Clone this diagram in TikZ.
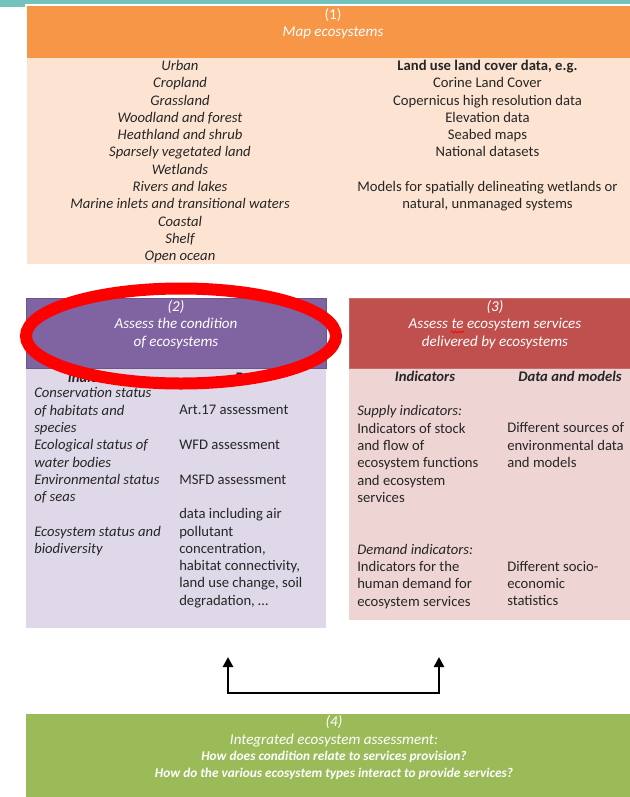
\documentclass[tikz,border=0pt]{standalone}
\usepackage{fontspec}
\setmainfont{Carlito}
\usetikzlibrary{arrows.meta,decorations.pathmorphing}

\definecolor{ecoteal}{HTML}{74C2BC}
\definecolor{ecoorange}{HTML}{F79646}
\definecolor{ecopeach}{HTML}{FDE4D2}
\definecolor{ecopurple}{HTML}{8064A2}
\definecolor{ecolavender}{HTML}{DFD8E8}
\definecolor{ecored}{HTML}{C0504D}
\definecolor{ecopink}{HTML}{EED5D4}
\definecolor{ecogreen}{HTML}{9BBB59}
\definecolor{ecotext}{HTML}{262626}

\newcommand\ecobodyfont{\fontsize{11}{12.97}\selectfont}
\newcommand\ecoheadfont{\fontsize{11.3}{13.1}\selectfont\itshape}
\newcommand\ecoquestfont{\fontsize{10}{12.75}\selectfont\bfseries\itshape}
\newcommand\ecoskip{12.97pt}

\tikzset{
  ecotext/.style={anchor=base, inner sep=0pt, text=ecotext, font=\ecobodyfont},
  ecolist/.style={ecotext, align=center},
  ecocol/.style={ecotext, anchor=base west, align=left},
  ecohead/.style={anchor=base, inner sep=0pt, text=white, align=center, font=\ecoheadfont},
  ecocolhead/.style={ecotext, font=\ecobodyfont\bfseries\itshape},
  ecoloop/.style={line width=2pt, {Triangle[width=7.5pt, length=7.5pt]}-{Triangle[width=7.5pt, length=7.5pt]}},
}

\begin{document}
\begin{tikzpicture}[x=0.75pt, y=-0.75pt]
  \useasboundingbox (0,0) rectangle (630,797);
  \fill[ecoteal] (0,0) rectangle (630,4);
  \fill[ecoteal] (0,0) rectangle (25,7);

  % (1) map -- multi-line nodes sit on their last baseline
  \fill[ecoorange] (27,6) rectangle (630,58);
  \fill[ecopeach] (27,58) rectangle (630,264);
  \node[ecohead] (maphead) at (333,36.5) {\upshape(1)\\Map ecosystems};
  \node[ecolist, font=\ecobodyfont\itshape] (ecotypes) at (180,260.7)
    {Urban\\Cropland\\Grassland\\Woodland and forest\\Heathland and shrub\\
     Sparsely vegetated land\\Wetlands\\Rivers and lakes\\
     Marine inlets and transitional waters\\Coastal\\Shelf\\Open ocean};
  \node[ecolist] (mapdata) at (487.5,208.8)
    {\textbf{Land use land cover data, e.g.}\\Corine Land Cover\\
     Copernicus high resolution data\\Elevation data\\Seabed maps\\
     National datasets\\[\ecoskip]
     Models for spatially delineating wetlands or\\natural, unmanaged systems};

  % (2) condition
  \fill[ecolavender] (26,368) rectangle (326,628);
  \filldraw[fill=ecopurple, draw=ecopurple!85!black, line width=0.5pt] (26,298) rectangle (326,368);
  \node[ecohead] (condhead) at (176,346) {(2)\\Assess the condition\\of ecosystems};
  \node[ecocolhead] (condind) at (98,382) {Indicators};
  \node[ecocolhead] (conddata) at (250,382) {Data};
  \node[ecocol, font=\ecobodyfont\itshape] (condlist) at (34,553.6)
    {Conservation status\\of habitats and\\species\\Ecological status of\\
     water bodies\\Environmental status\\of seas\\[\ecoskip]
     Ecosystem status and\\biodiversity};
  \node[ecocol] (condsrc) at (179,605.2)
    {Art.17 assessment\\[\ecoskip]WFD assessment\\[\ecoskip]MSFD assessment\\[\ecoskip]
     data including air\\pollutant\\concentration,\\habitat connectivity,\\
     land use change, soil\\degradation, \ldots};
  \draw[red, line width=9pt] (181,336) ellipse [x radius=155, y radius=47.5];

  % (3) services
  \fill[ecopink] (349,368) rectangle (630,620);
  \filldraw[fill=ecored, draw=ecored!85!white, line width=0.5pt] (349,298) rectangle (630,368);
  \node[ecohead] (servhead) at (495,346) {(3)\\Assess te ecosystem services\\delivered by ecosystems};
  \draw[red, line width=0.6pt, decorate, decoration={snake, amplitude=0.6pt, segment length=2.6pt}]
    (451,332) -- (464,332);
  \node[ecocolhead] (servind) at (425,381) {Indicators};
  \node[ecocolhead] (servdata) at (570,381) {Data and models};
  \node[ecocol] (servlist) at (357,606.2)
    {\textit{Supply indicators:}\\Indicators of stock\\and flow of\\
     ecosystem functions\\and ecosystem\\services\\[25.94pt]
     \textit{Demand indicators:}\\Indicators for the\\human demand for\\
     ecosystem services};
  \node[ecocol] (servsrc) at (507,605.9)
    {Different sources of\\environmental data\\and models\\[64.85pt]
     Different socio-\\economic\\statistics};

  % link (2) and (3)
  \coordinate (condtip) at (228,657);
  \coordinate (servtip) at (439,657);
  \coordinate (loopleft) at (228,693);
  \coordinate (loopright) at (439,693);
  \draw[ecoloop] (condtip) -- (loopleft) -- (loopright) -- (servtip);

  % (4) integrated
  \fill[ecogreen] (26,714) rectangle (630,797);
  \node[ecohead, font=\fontsize{11.3}{13.5}\selectfont\itshape] (integ) at (334,744)
    {(4)\\Integrated ecosystem assessment:};
  \node[ecohead, font=\ecoquestfont] (questions) at (334,777)
    {How does condition relate to services provision?\\
     How do the various ecosystem types interact to provide services?};
\end{tikzpicture}
\end{document}
